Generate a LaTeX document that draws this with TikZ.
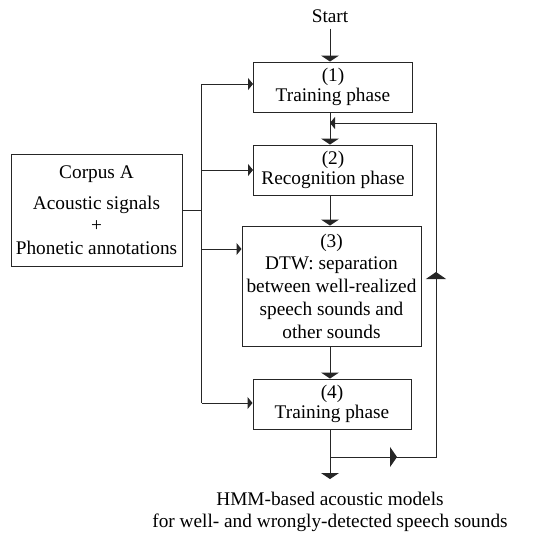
\documentclass[tikz,border=0pt]{standalone}
\usepackage{fontspec}
\setmainfont{Liberation Serif}
\usetikzlibrary{arrows.meta}
\begin{document}
\begin{tikzpicture}[x=1pt,y=-1pt,
  box/.style={draw=black!85, line width=1pt, align=center, inner sep=0pt, font=\fontsize{19.3}{20}\selectfont},
  ln/.style={draw=black!85, line width=1pt},
  downarr/.style={ln,-{Triangle[width=18pt,length=6pt]}},
  sidearr/.style={ln,-{Triangle[width=12pt,length=5pt]}},
  midarr/.style={ln,-{Triangle[width=20pt,length=7pt]}},
  lbl/.style={font=\fontsize{19.3}{22}\selectfont, align=center, inner sep=0pt}
]
\useasboundingbox (0,0) rectangle (540,539);
\node[lbl] (start) at (330,16) {Start};
\node[box, minimum width=159pt, minimum height=50pt] (b1) at (333,87) {(1)\\Training phase};
\node[box, minimum width=159pt, minimum height=50pt] (b2) at (333,170) {(2)\\Recognition phase};
\node[box, minimum width=179pt, minimum height=120pt, font=\fontsize{19.3}{22.7}\selectfont] (b3) at (331.5,286) {(3)\\DTW: separation\\between well-realized\\speech sounds and\\other sounds};
\node[box, minimum width=158pt, minimum height=50pt] (b4) at (332,404) {(4)\\Training phase};
\node[box, minimum width=171pt, minimum height=112pt, font=\fontsize{19.3}{22.5}\selectfont] (corpus) at (96.5,210) {Corpus A\\[8pt]Acoustic signals\\+\\Phonetic annotations};
\coordinate (sp1) at (201.5,84);
\coordinate (sp3) at (201.5,249);
\coordinate (sp4) at (201.5,403);
\coordinate (out) at (330,479);
\coordinate (lp0) at (330,457);
\coordinate (lp1) at (436,457);
\coordinate (lp2) at (436,123);
\coordinate (lp3) at (330,123);
\coordinate (m1) at (397,457);
\coordinate (m2) at (436,272);
\node[lbl] (result) at (330,511.5) {HMM-based acoustic models\\for well- and wrongly-detected speech sounds};
% spine
\draw[ln] (sp1) -- (sp4);
\draw[ln] (corpus.east) -- (corpus.east -| sp1);
\draw[sidearr] (sp1) -- (sp1 -| b1.west);
\draw[sidearr] (b2.west -| sp1) -- (b2.west);
\draw[sidearr] (sp3) -- (sp3 -| b3.west);
\draw[sidearr] (sp4) -- (sp4 -| b4.west);
% main column
\draw[downarr, shorten <=6pt] (start) -- (start |- b1.north);
\draw[downarr] (b1.south -| start) -- (b2.north -| start);
\draw[downarr] (b2.south -| start) -- (b3.north -| start);
\draw[downarr] (b3.south -| start) -- (b4.north -| start);
\draw[downarr] (b4.south -| start) -- (out);
% loop
\draw[ln] (lp0) -- (lp1) -- (lp2) -- (lp3);
\draw[midarr] (lp0) -- (m1);
\draw[midarr] (lp1) -- (m2);
\draw[sidearr] (lp2) -- (lp3);
\end{tikzpicture}
\end{document}
